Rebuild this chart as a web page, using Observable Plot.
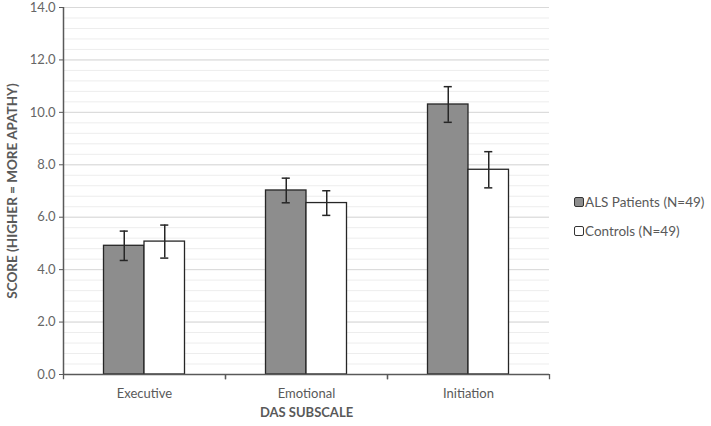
<!DOCTYPE html>
<html>
<head>
<meta charset="utf-8">
<script src="https://cdn.jsdelivr.net/npm/d3@7"></script>
<script src="https://cdn.jsdelivr.net/npm/@observablehq/plot@0.6"></script>
<style>
  body { margin: 0; background: #fff; }
  #wrap { position: relative; width: 711px; height: 426px; font-family: Lato, "Open Sans", sans-serif; }
  #legend { position: absolute; left: 574px; top: 194px; font-size: 13.5px; color: #595959; }
  .item { display: flex; align-items: center; height: 15px; margin-bottom: 14px; white-space: nowrap; }
  .sw { width: 8px; height: 8px; border: 1.5px solid #333; border-radius: 2px; margin-right: 1px; }
</style>
</head>
<body>
<div id="wrap"><div id="legend"></div></div>
<script>
const categories = ["Executive", "Emotional", "Initiation"];
const groups = ["ALS Patients (N=49)", "Controls (N=49)"];
const groupFills = ["#8d8d8d", "#ffffff"];
const alsMeans = [4.91, 7.02, 10.30];
const alsErrors = [0.56, 0.47, 0.68];
const controlMeans = [5.07, 6.54, 7.81];
const controlErrors = [0.63, 0.47, 0.69];
const yTicks = [0, 2, 4, 6, 8, 10, 12, 14];
const yMinorTicks = d3.range(0, 14.001, 0.4);

const rows = [];
categories.forEach((cat, i) => {
  rows.push({cat, group: groups[0], gi: 0, mean: alsMeans[i], err: alsErrors[i]});
  rows.push({cat, group: groups[1], gi: 1, mean: controlMeans[i], err: controlErrors[i]});
});

const chart = Plot.plot({
  width: 711,
  height: 426,
  marginLeft: 62,
  marginRight: 162,
  marginTop: 7,
  marginBottom: 52,
  style: {fontFamily: "Lato, 'Open Sans', sans-serif", fontSize: "12px", color: "#595959", background: "#fff"},
  fx: {domain: categories, padding: 0},
  x: {domain: [0, 4], axis: null},
  y: {domain: [0, 14], axis: null},
  color: {domain: groups, range: groupFills},
  marks: [
    Plot.ruleY(yMinorTicks, {stroke: "#ededed", strokeWidth: 1}),
    Plot.ruleY(yTicks, {stroke: "#d9d9d9", strokeWidth: 1}),
    Plot.rectY(rows, {fx: "cat", x1: d => d.gi + 1, x2: d => d.gi + 2, y: "mean", fill: "group", stroke: "#262626", strokeWidth: 1.3}),
    Plot.ruleX(rows, {fx: "cat", x: d => d.gi + 1.5, y1: d => d.mean - d.err, y2: d => d.mean + d.err, stroke: "#262626", strokeWidth: 1.5}),
    Plot.ruleY(rows, {fx: "cat", y: d => d.mean - d.err, x1: d => d.gi + 1.4, x2: d => d.gi + 1.6, stroke: "#262626", strokeWidth: 1.5}),
    Plot.ruleY(rows, {fx: "cat", y: d => d.mean + d.err, x1: d => d.gi + 1.4, x2: d => d.gi + 1.6, stroke: "#262626", strokeWidth: 1.5}),
    Plot.ruleY([0], {stroke: "#595959", strokeWidth: 1.5}),
    Plot.ruleX([0, 4], {y1: 0, y2: -0.2, stroke: "#595959", strokeWidth: 1.3}),
    Plot.ruleX([categories[0]], {fx: d => d, x: 0, y1: 0, y2: 14, stroke: "#595959", strokeWidth: 1.5}),
    Plot.axisY({ticks: yTicks, tickFormat: d => d.toFixed(1), tickSize: 4, tickPadding: 4, stroke: "#595959", fill: "#666", fontSize: 13, label: null}),
    Plot.axisY({ticks: [], tickSize: 0, label: "SCORE (HIGHER = MORE APATHY)", labelAnchor: "center", labelArrow: false, labelOffset: 56, fontWeight: "bold", fontSize: 13.5, fill: "#595959"}),
    Plot.axisFx({anchor: "bottom", tickSize: 0, tickPadding: 14, fontSize: 13, fill: "#595959", label: null}),
    Plot.axisFx({anchor: "bottom", tickSize: 0, tickFormat: () => "", label: "DAS SUBSCALE", labelAnchor: "center", labelArrow: false, labelOffset: 42, fontWeight: "bold", fontSize: 13, fill: "#595959"})
  ]
});
document.getElementById("wrap").prepend(chart);

const legend = d3.select("#legend");
groups.forEach((g, i) => {
  const item = legend.append("div").attr("class", "item");
  item.append("div").attr("class", "sw").style("background", groupFills[i]);
  item.append("span").text(g);
});
</script>
</body>
</html>
